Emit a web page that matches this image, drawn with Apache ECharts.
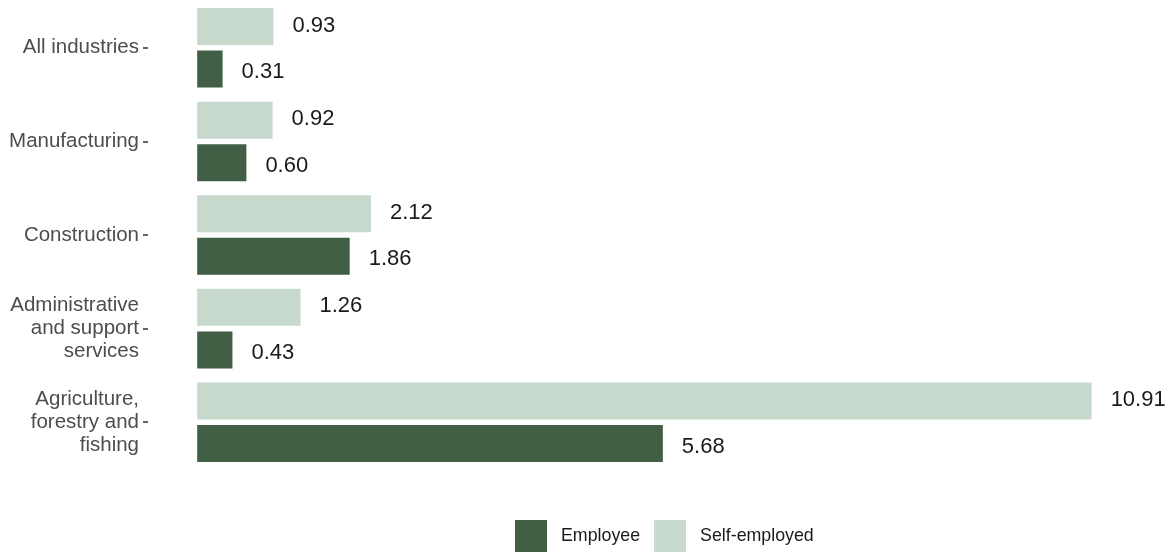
<!DOCTYPE html>
<html>
<head>
<meta charset="utf-8">
<script src="https://cdn.jsdelivr.net/npm/echarts@6/dist/echarts.min.js"></script>
<style>
  html, body { margin: 0; padding: 0; background: #ffffff; }
  #chart { width: 1170px; height: 553px; }
</style>
</head>
<body>
<div id="chart"></div>
<script>
// Industry groups, listed top to bottom
const industries = [
  'All industries',
  'Manufacturing',
  'Construction',
  'Administrative\nand support\nservices',
  'Agriculture,\nforestry and\nfishing'
];
// Rates per group
const selfEmployed = [0.93, 0.92, 2.12, 1.26, 10.91];
const employee = [0.31, 0.60, 1.86, 0.43, 5.68];

const darkGreen = '#415f45';
const lightGreen = '#c6d9cc';
const font = 'Liberation Sans, Arial, sans-serif';

const chart = echarts.init(document.getElementById('chart'), null, { renderer: 'canvas' });

function valueLabel(dy) {
  return {
    show: true,
    position: 'right',
    distance: 19,
    offset: [0, dy],
    color: '#1a1a1a',
    fontFamily: font,
    fontSize: 22,
    formatter: p => p.value.toFixed(2)
  };
}

chart.setOption({
  animation: false,
  // the value scale starts a little below zero so the category ticks sit left of the bars
  grid: { left: 148, top: 1, width: 992, height: 468 },
  xAxis: {
    type: 'value',
    min: -0.6,
    max: 11.5,
    show: false
  },
  yAxis: {
    type: 'category',
    data: industries,
    inverse: true,
    axisLine: { show: false, onZero: false },
    axisTick: { show: true, length: 5, alignWithLabel: true, lineStyle: { color: '#333333', width: 1.5 } },
    axisLabel: {
      margin: 9,
      color: '#4d4d4d',
      fontFamily: font,
      fontSize: 20.5,
      lineHeight: 23,
      padding: [4, 0, 0, 0],
      align: 'right'
    },
    splitLine: { show: false }
  },
  legend: {
    bottom: 1,
    left: 515,
    padding: 0,
    data: ['Employee', 'Self-employed'],
    icon: 'rect',
    itemWidth: 32,
    itemHeight: 32,
    itemGap: 14,
    textStyle: {
      color: '#1a1a1a',
      fontFamily: font,
      fontSize: 17.8,
      padding: [0, 0, 0, 9]
    }
  },
  series: [
    {
      name: 'Self-employed',
      type: 'bar',
      data: selfEmployed,
      barWidth: 37,
      barGap: '15%',
      itemStyle: { color: lightGreen },
      label: valueLabel(-1)
    },
    {
      name: 'Employee',
      type: 'bar',
      data: employee,
      barWidth: 37,
      barGap: '15%',
      itemStyle: { color: darkGreen },
      label: valueLabel(3)
    }
  ]
});
</script>
</body>
</html>
